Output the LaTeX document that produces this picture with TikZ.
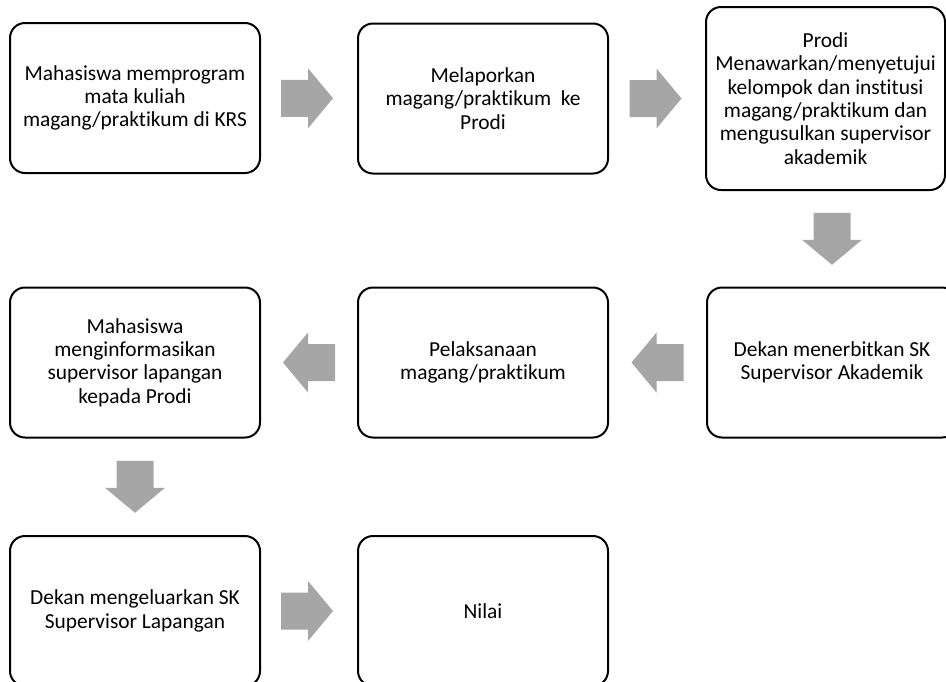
\documentclass[tikz,border=0pt]{standalone}
\usepackage{fontspec}
\setmainfont{Carlito}[RawFeature={-liga;-clig;-calt;-dlig}]
\usetikzlibrary{calc}
\definecolor{arrowgray}{RGB}{166,166,166}
\tikzset{
  stepbox/.style={draw=black, line width=2pt, rounded corners=15pt,
    minimum width=250pt, minimum height=150pt, align=center,
    font=\fontsize{21.4}{23.3}\selectfont, inner sep=0pt},
  % block arrow pointing east, centred on its position
  pics/blockarrow/.style={code={
    \fill[arrowgray] (-26,-18.5) -- (1,-18.5) -- (1,-30) -- (26,0)
      -- (1,30) -- (1,18.5) -- (-26,18.5) -- cycle;}},
}
\begin{document}
\begin{tikzpicture}[x=1pt,y=-1pt]
\useasboundingbox (0,0) rectangle (946,681);

% first row
\node[stepbox] (b1) at (135,98) {Mahasiswa memprogram\\mata kuliah\\magang/praktikum di KRS};
\node[stepbox] (b2) at (483,98.5) {Melaporkan\\magang/praktikum\ \ ke\\Prodi};
\node[stepbox, minimum width=239pt, minimum height=183pt] (b3) at (825.5,98.5)
  {Prodi\\Menawarkan/menyetujui\\kelompok dan institusi\\magang/praktikum dan\\mengusulkan supervisor\\akademik};

% second row
\node[stepbox] (b6) at (832,362.5) {Dekan menerbitkan SK\\Supervisor Akademik};
\node[stepbox] (b5) at (483,362.5) {Pelaksanaan\\magang/praktikum};
\node[stepbox] (b4) at (135,362.5) {Mahasiswa\\menginformasikan\\supervisor lapangan\\kepada Prodi};

% third row
\node[stepbox] (b7) at (135,611) {Dekan mengeluarkan SK\\Supervisor Lapangan};
\node[stepbox] (b8) at (483,611) {Nilai};

% block arrows between the steps
\coordinate (m12) at ($(b1.east)!0.5!(b2.west)$);
\coordinate (m23) at ($(b2.east)!0.5!(b3.west)$);
\coordinate (m36) at ($(b3.south)!0.5!(b6.north)$);
\coordinate (m65) at ($(b6.west)!0.5!(b5.east)$);
\coordinate (m54) at ($(b5.west)!0.5!(b4.east)$);
\coordinate (m47) at ($(b4.south)!0.5!(b7.north)$);
\coordinate (m78) at ($(b7.east)!0.5!(b8.west)$);

\pic (a12) at ([xshift=-2pt]m12) {blockarrow};
\pic (a23) at ([xshift=-1.5pt]m23) {blockarrow};
\pic[rotate=-90] (a36) at (m36 -| b6.north) {blockarrow};
\pic[rotate=180] (a65) at (m65) {blockarrow};
\pic[rotate=180] (a54) at (m54) {blockarrow};
\pic[rotate=-90] (a47) at (m47) {blockarrow};
\pic (a78) at ([xshift=-2pt]m78) {blockarrow};
\end{tikzpicture}
\end{document}
